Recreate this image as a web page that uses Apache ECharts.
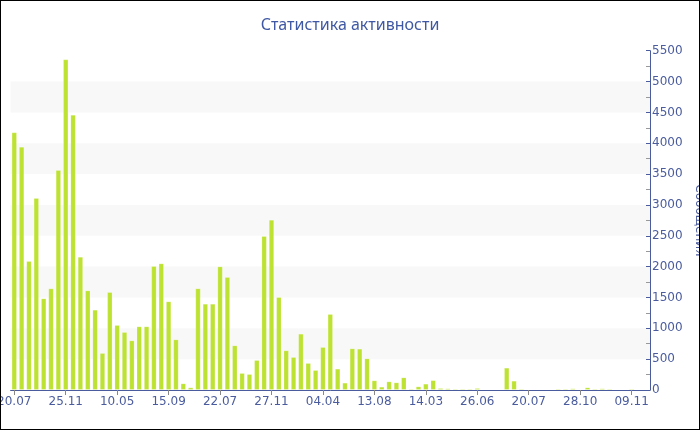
<!DOCTYPE html>
<html>
<head>
<meta charset="utf-8">
<script src="https://cdn.jsdelivr.net/npm/echarts@6/dist/echarts.min.js"></script>
<style>
  html, body { margin: 0; padding: 0; background: #fff; }
  #chart { width: 700px; height: 430px; box-sizing: border-box; border: 1px solid #000; }
</style>
</head>
<body>
<div id="chart"></div>
<script>
const tickLabels = ['20.07','25.11','10.05','15.09','22.07','27.11','04.04','13.08','14.03','26.06','20.07','28.10','09.11'];
const values = [
  4177, 3944, 2091, 3112, 1486, 1648, 3566, 5360, 4463, 2161,
  1615, 1302, 600, 1588, 1054, 940, 805, 1032, 1032, 2010,
  2053, 1437, 821, 108, 43, 1648, 1399, 1399, 2004, 1832,
  724, 276, 259, 486, 2496, 2760, 1507, 643, 535, 913,
  438, 324, 697, 1232, 346, 119, 675, 670, 513, 157,
  54, 140, 124, 205, 22, 59, 103, 160, 32, 27,
  22, 22, 22, 32, 16, 16, 16, 362, 151, 22,
  16, 16, 16, 16, 22, 22, 27, 16, 43, 22,
  27, 22, 16, 16, 22, 16, 16
];
const categories = values.map((_, i) => (i % 7 === 0 ? tickLabels[i / 7] : ''));

const blue = '#4a5c9e';
const chart = echarts.init(document.getElementById('chart'), null, { renderer: 'canvas' });
chart.setOption({
  animation: false,
  title: {
    text: 'Статистика активности',
    left: 'center',
    top: 11,
    textStyle: { fontFamily: 'Noto Sans', fontSize: 16, fontWeight: 'normal', color: '#3f58a3' }
  },
  grid: { left: 9.6, right: 49, top: 49.7, bottom: 39, containLabel: false, outerBoundsMode: 'none' },
  xAxis: {
    type: 'category',
    data: categories,
    boundaryGap: true,
    axisLine: { lineStyle: { color: blue, width: 1 } },
    axisTick: { show: true, alignWithLabel: true, interval: 6, length: 5, lineStyle: { color: '#888' } },
    axisLabel: { interval: 6, margin: 6, fontFamily: 'DejaVu Sans', fontSize: 12, color: blue },
    splitLine: { show: false }
  },
  yAxis: {
    type: 'value',
    position: 'right',
    min: 0,
    max: 5500,
    interval: 500,
    name: 'Сообщения',
    nameLocation: 'middle',
    nameRotate: -90,
    nameGap: 41,
    nameTextStyle: { fontFamily: 'DejaVu Sans', fontSize: 12, color: blue },
    axisLine: { show: true, lineStyle: { color: blue, width: 1 } },
    axisTick: { show: true, inside: true, length: 4, lineStyle: { color: blue } },
    minorTick: { show: true, splitNumber: 2, length: 4, lineStyle: { color: '#999' } },
    axisLabel: { margin: 2, fontFamily: 'DejaVu Sans', fontSize: 12, color: blue, formatter: (v) => String(v) },
    splitLine: { show: false },
    splitArea: { show: true, areaStyle: { color: ['rgba(255,255,255,0)', '#f8f8f8'] } }
  },
  series: [{
    type: 'bar',
    data: values,
    barCategoryGap: '26%',
    itemStyle: { color: '#bde232', borderColor: 'rgba(255,255,255,0.2)', borderWidth: 1 }
  }]
});
</script>
</body>
</html>
